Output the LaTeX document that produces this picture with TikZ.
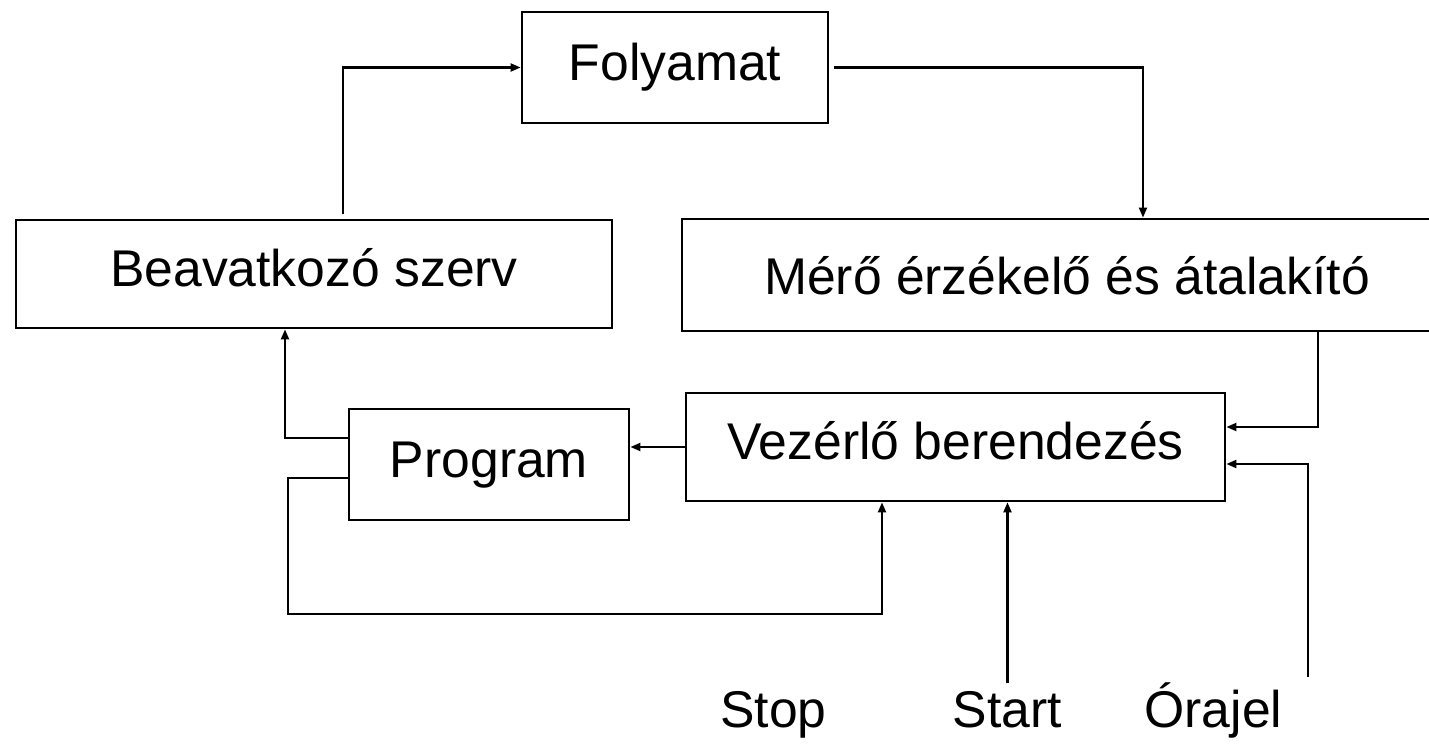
\documentclass[tikz,border=0pt]{standalone}
\usepackage{fontspec}
\setmainfont{Liberation Sans}
\usepackage{tikz}
\usetikzlibrary{positioning, arrows.meta, calc}

\begin{document}
\begin{tikzpicture}[
      x=0.1mm, y=-0.1mm,
      >={Triangle[length=1mm,width=0.8mm]},
      block/.style={
        draw,
        line width=0.8pt,
        align=center,
        text height=0.72em,
        text depth=0pt,
        font=\fontsize{14.7pt}{17pt}\selectfont,
      },
      label/.style={
        text height=0.72em,
        text depth=0pt,
        font=\fontsize{14.7pt}{17pt}\selectfont,
      },
      conn/.style={line width=0.6pt},
      ]
      \useasboundingbox (0,0) rectangle (1429,744);
      \node[block, minimum width=30.6mm, minimum height=11.1mm] (folyamat) at (675,67.5) {Folyamat};
      \node[block, minimum width=59.6mm, minimum height=10.8mm] (beav) at (314,274) {Beavatkozó szerv};
      \node[block, minimum width=77mm, minimum height=11.2mm, text height=1.1em] (mero) at (1067,275) {Mérő érzékelő és átalakító};
      \node[block, minimum width=28mm, minimum height=11.1mm] (program) at (489,464.5) {Program};
      \node[block, minimum width=53.9mm, minimum height=10.8mm] (vezerlo) at (955.5,447) {Vezérlő berendezés};
      \node[label] (stop) at (773.5,714.5) {Stop};
      \node[label] (start) at (1007.5,714.5) {Start};
      \node[label] (orajel) at (1213.5,714.5) {Órajel};
      \coordinate (clk) at (1308,677);
      \draw[conn,->,shorten <=0.5mm] ([xshift=2.9mm]beav.north) |- (folyamat.west);
      \draw[conn,->,shorten <=0.5mm] (folyamat.east) -| ([xshift=7.6mm]mero.north);
      \draw[conn,->] ([xshift=25.1mm]mero.south) |- ([yshift=2mm]vezerlo.east);
      \draw[conn,->] (clk) |- ([yshift=-1.7mm]vezerlo.east);
      \draw[conn,->,shorten <=0.6mm] (start.north) -- (vezerlo.south -| start.north);
      \draw[conn,->] (vezerlo.west) -- (program.east |- vezerlo.west);
      \draw[conn,->] ([yshift=2.65mm]program.west) -| ([xshift=-2.9mm]beav.south);
      \draw[conn,->] ([yshift=-1.35mm]program.west) -- ++(-60,0) -- ++(0,136) -| ([xshift=-7.35mm]vezerlo.south);
    \end{tikzpicture}
\end{document}
